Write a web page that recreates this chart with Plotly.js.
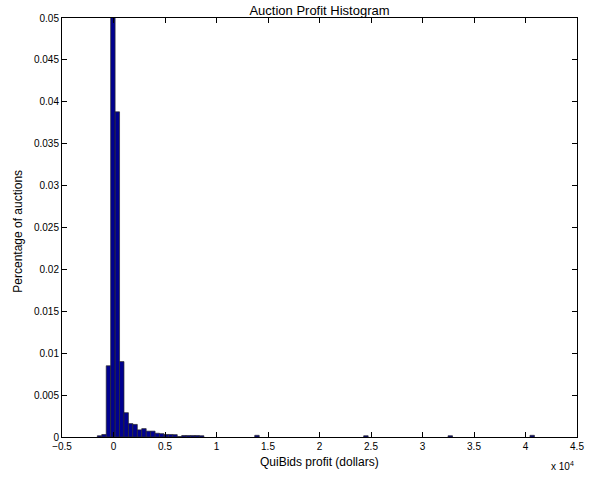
<!DOCTYPE html>
<html>
<head>
<meta charset="utf-8">
<script src="https://cdn.plot.ly/plotly-3.0.1.min.js"></script>
<style>html,body{margin:0;padding:0;background:#fff;}#chart{width:601px;height:477px;}</style>
</head>
<body>
<div id="chart"></div>
<script>
// Bin centres of the histogram (dollars) and the share of auctions in each bin
var profitBins = [-1353, -922, -491, -60, 371, 802, 1233, 1664, 2095, 2526, 2957, 3388,
                  3819, 4250, 4681, 5112, 5543, 5974, 6405, 6836, 7267, 7698, 8129, 8560,
                  13930, 24507, 32696, 40650];
var shareOfAuctions = [0.00015, 0.0003, 0.0085, 0.058, 0.0388, 0.009, 0.0029, 0.0016, 0.0015, 0.00085, 0.001, 0.0007,
                       0.0007, 0.00045, 0.0004, 0.0003, 0.0003, 0.00028, 0.00005, 0.00018, 0.00018, 0.00018, 0.00018, 0.00015,
                       0.0002, 0.00015, 0.00015, 0.0002];
var binWidth = 431;

var xTickVals = [-5000, 0, 5000, 10000, 15000, 20000, 25000, 30000, 35000, 40000, 45000];
var xTickText = ['\u22120.5', '0', '0.5', '1', '1.5', '2', '2.5', '3', '3.5', '4', '4.5'];
var yTickVals = [0, 0.005, 0.01, 0.015, 0.02, 0.025, 0.03, 0.035, 0.04, 0.045, 0.05];
var yTickText = ['0', '0.005', '0.01', '0.015', '0.02', '0.025', '0.03', '0.035', '0.04', '0.045', '0.05'];

var font = 'Liberation Sans, Arial, Helvetica, sans-serif';

var trace = {
  type: 'bar',
  x: profitBins,
  y: shareOfAuctions,
  width: binWidth,
  marker: {color: '#00008f', line: {color: '#2a2a2a', width: 0.7}},
  hoverinfo: 'x+y'
};

var W = 601, H = 477, L = 62, R = 24, T = 18, B = 40;
var plotW = W - L - R, plotH = H - T - B;

var layout = {
  width: W, height: H,
  margin: {l: L, r: R, t: T, b: B, pad: 0},
  paper_bgcolor: '#ffffff', plot_bgcolor: '#ffffff',
  showlegend: false,
  bargap: 0,
  font: {family: font, size: 10, color: '#000'},
  title: {text: 'Auction Profit Histogram', font: {family: font, size: 13, color: '#000'},
          x: 0.5, xref: 'paper', xanchor: 'center', y: 1 - 10 / H, yref: 'container', yanchor: 'middle'},
  xaxis: {
    range: [-5000, 45000], tickmode: 'array', tickvals: xTickVals, ticktext: xTickText,
    ticks: 'inside', ticklen: 5, tickcolor: '#000', tickwidth: 1,
    showline: true, linecolor: '#000', linewidth: 1, mirror: 'ticks',
    showgrid: false, zeroline: false, tickfont: {family: font, size: 10, color: '#000'}
  },
  yaxis: {
    range: [0, 0.05], tickmode: 'array', tickvals: yTickVals, ticktext: yTickText,
    ticks: 'inside', ticklen: 5, tickcolor: '#000', tickwidth: 1,
    showline: true, linecolor: '#000', linewidth: 1, mirror: 'ticks',
    showgrid: false, zeroline: false, tickfont: {family: font, size: 10, color: '#000'}
  },
  annotations: [
    {text: 'QuiBids profit (dollars)', xref: 'paper', yref: 'paper', x: 0.5, y: -(462 - (H - B)) / plotH,
     xanchor: 'center', yanchor: 'middle', showarrow: false, font: {family: font, size: 12, color: '#000'}},
    {text: 'Percentage of auctions', xref: 'paper', yref: 'paper', x: (18 - L) / plotW, y: 0.49, textangle: -90,
     xanchor: 'center', yanchor: 'middle', showarrow: false, font: {family: font, size: 12, color: '#000'}},
    {text: 'x 10<sup>4</sup>', xref: 'paper', yref: 'paper', x: (562 - L) / plotW, y: -(466 - (H - B)) / plotH,
     xanchor: 'center', yanchor: 'middle', showarrow: false, font: {family: font, size: 10, color: '#000'}}
  ]
};

Plotly.newPlot('chart', [trace], layout, {displayModeBar: false, staticPlot: true});
</script>
</body>
</html>
